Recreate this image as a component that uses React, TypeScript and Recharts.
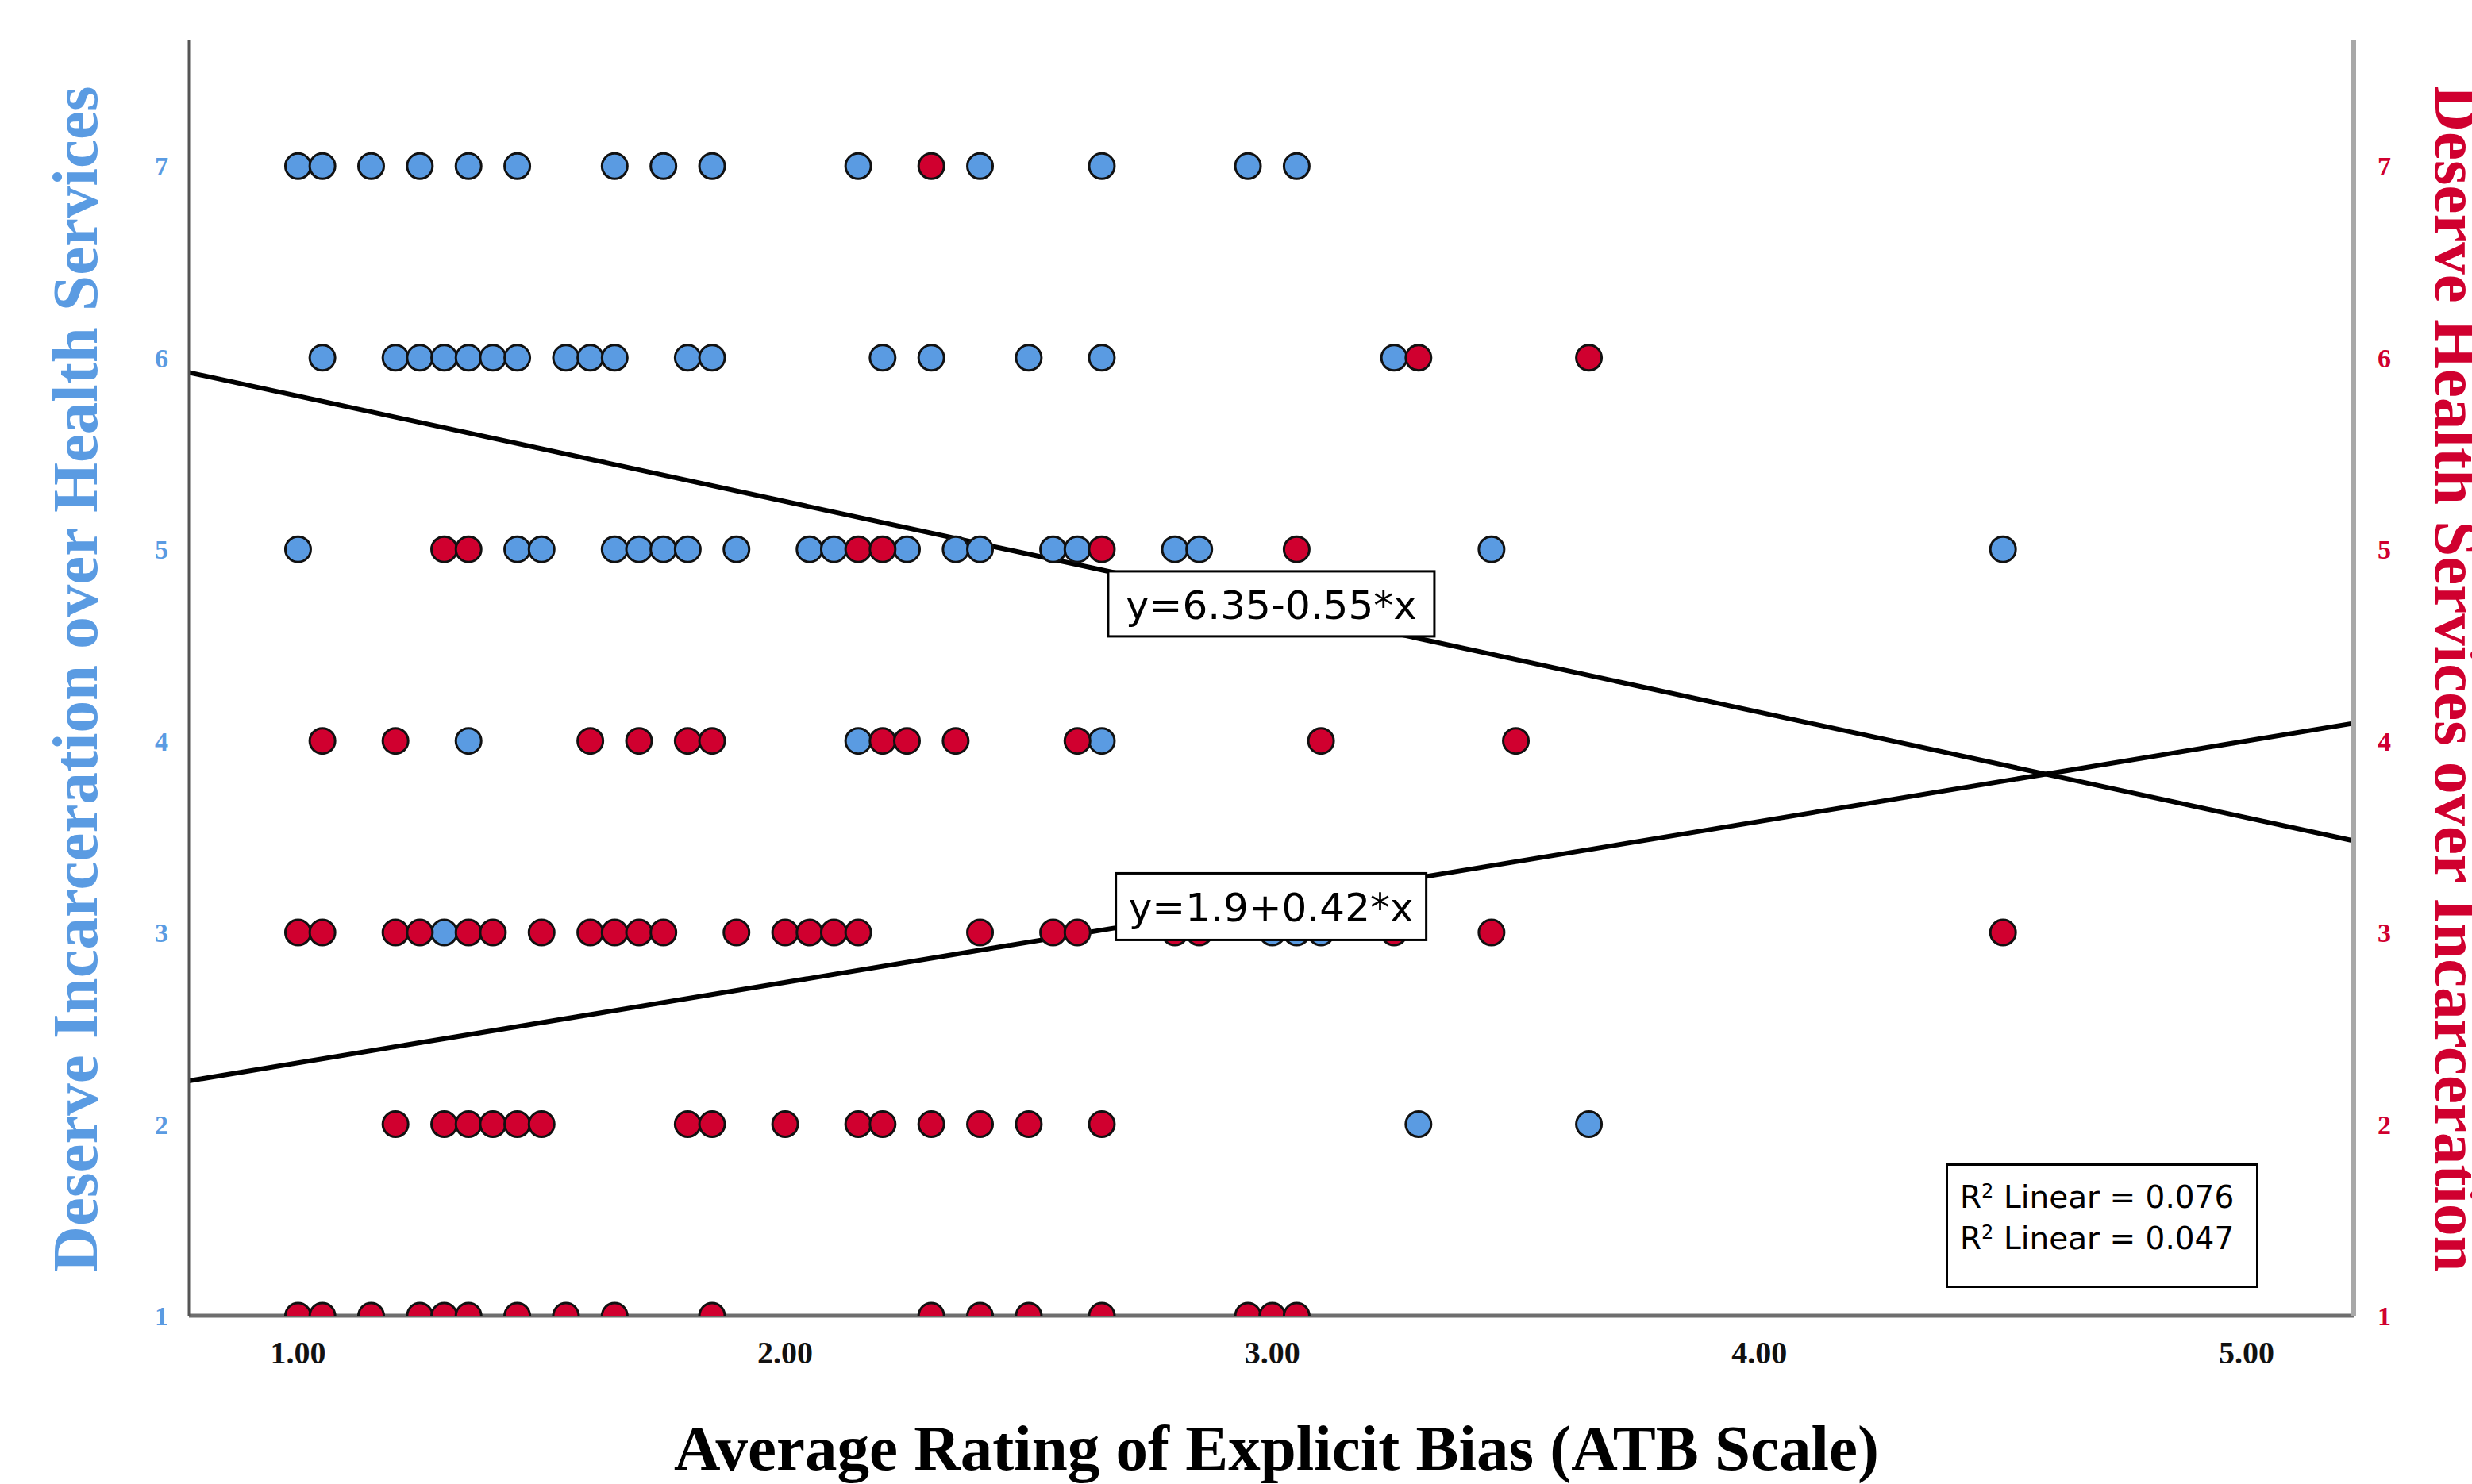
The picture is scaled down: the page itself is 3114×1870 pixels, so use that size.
import React from "react";
import {
  ScatterChart,
  Scatter,
  XAxis,
  YAxis,
  ReferenceLine,
  ReferenceDot,
} from "recharts";

const xTicks = [1, 2, 3, 4, 5];
const yTicks = [1, 2, 3, 4, 5, 6, 7];

// Deserve Incarceration over Health Services (blue, left axis) - x values per rating level
const blue7 = [1.0, 1.05, 1.15, 1.25, 1.35, 1.45, 1.65, 1.75, 1.85, 2.15, 2.4, 2.65, 2.95, 3.05];
const blue6 = [1.05, 1.2, 1.25, 1.3, 1.35, 1.4, 1.45, 1.55, 1.6, 1.65, 1.8, 1.85, 2.2, 2.3, 2.5, 2.65, 3.25];
const blue5 = [1.0, 1.45, 1.5, 1.65, 1.7, 1.75, 1.8, 1.9, 2.05, 2.1, 2.25, 2.35, 2.4, 2.55, 2.6, 2.8, 2.85, 3.45, 4.5];
const blue4 = [1.35, 2.15, 2.65];
const blue3 = [1.3, 3.0, 3.05, 3.1];
const blue2 = [3.3, 3.65];

// Deserve Health Services over Incarceration (red, right axis)
const red7 = [2.3];
const red6 = [3.3, 3.65];
const red5 = [1.3, 1.35, 2.15, 2.2, 2.65, 3.05];
const red4 = [1.05, 1.2, 1.6, 1.7, 1.8, 1.85, 2.2, 2.25, 2.35, 2.6, 3.1, 3.5];
const red3 = [1.0, 1.05, 1.2, 1.25, 1.35, 1.4, 1.5, 1.6, 1.65, 1.7, 1.75, 1.9, 2.0, 2.05, 2.1, 2.15, 2.4, 2.55, 2.6, 2.8, 2.85, 3.25, 3.45, 4.5];
const red2 = [1.2, 1.3, 1.35, 1.4, 1.45, 1.5, 1.8, 1.85, 2.0, 2.15, 2.2, 2.3, 2.4, 2.5, 2.65];
const red1 = [1.0, 1.05, 1.15, 1.25, 1.3, 1.35, 1.45, 1.55, 1.65, 1.85, 2.3, 2.4, 2.5, 2.65, 2.95, 3.0, 3.05];

// fit lines: y = a + b*x
const blueFit = { a: 6.35, b: -0.55, r2: 0.076 };
const redFit = { a: 1.9, b: 0.42, r2: 0.047 };

const X_MIN = 0.776;
const X_MAX = 5.22;
const Y_MIN = 1;
const Y_MAX = 7.66;

const BLUE = "#5a9be2";
const RED = "#d0002f";
const SERIF = "'Liberation Serif', 'Times New Roman', serif";
const SANS = "'DejaVu Sans', sans-serif";

const toPoints = (rows: [number, number[]][]) =>
  rows.flatMap(([y, xs]) => xs.map((x) => ({ x, y })));

const bluePoints = toPoints([[7, blue7], [6, blue6], [5, blue5], [4, blue4], [3, blue3], [2, blue2]]);
const redPoints = toPoints([[7, red7], [6, red6], [5, red5], [4, red4], [3, red3], [2, red2], [1, red1]]);

const fitAt = (f: { a: number; b: number }, x: number) => f.a + f.b * x;
const eqText = (f: { a: number; b: number }) =>
  `y=${f.a}${f.b < 0 ? "-" : "+"}${Math.abs(f.b)}*x`;

const dot = (fill: string) => (p: any) => (
  <circle cx={p.cx} cy={p.cy} r={16} fill={fill} stroke="#111" strokeWidth={3} />
);

const EquationBox = ({ cx, cy, text, w, h, alignRight }: any) => {
  const x = alignRight ? cx - w : cx;
  return (
    <g>
      <rect x={x} y={cy} width={w} height={h} fill="#fff" stroke="#000" strokeWidth={3} />
      <text
        x={x + w / 2}
        y={cy + h / 2 + 2}
        textAnchor="middle"
        dominantBaseline="central"
        fontFamily={SANS}
        fontSize={50}
        fill="#000"
      >
        {text}
      </text>
    </g>
  );
};

export default function App() {
  return (
    <div style={{ position: "absolute", left: 0, top: 0, width: 3114, height: 1870, background: "#fff" }}>
      <ScatterChart
        width={3114}
        height={1870}
        margin={{ top: 50, right: 49, bottom: 112, left: 138 }}
      >
        <XAxis
          type="number"
          dataKey="x"
          domain={[X_MIN, X_MAX]}
          ticks={xTicks}
          allowDataOverflow
          height={100}
          tickLine={false}
          tickMargin={26}
          tickFormatter={(v: number) => v.toFixed(2)}
          axisLine={{ stroke: "#6e6e6e", strokeWidth: 5 }}
          tick={{ fill: "#111", fontFamily: SERIF, fontWeight: 700, fontSize: 40 }}
        />
        <YAxis
          yAxisId="left"
          type="number"
          dataKey="y"
          domain={[Y_MIN, Y_MAX]}
          ticks={yTicks}
          allowDataOverflow
          width={100}
          tickLine={false}
          tickMargin={20}
          axisLine={{ stroke: "#555", strokeWidth: 3 }}
          tick={{ fill: BLUE, fontFamily: SERIF, fontWeight: 700, fontSize: 34 }}
        />
        <YAxis
          yAxisId="right"
          orientation="right"
          type="number"
          dataKey="y"
          domain={[Y_MIN, Y_MAX]}
          ticks={yTicks}
          allowDataOverflow
          width={100}
          tickLine={false}
          tickMargin={24}
          axisLine={{ stroke: "#a8a8a8", strokeWidth: 6 }}
          tick={{ fill: RED, fontFamily: SERIF, fontWeight: 700, fontSize: 34 }}
        />
        <Scatter
          yAxisId="left"
          data={bluePoints}
          shape={dot(BLUE)}
          isAnimationActive={false}
        />
        <Scatter
          yAxisId="right"
          data={redPoints}
          shape={dot(RED)}
          isAnimationActive={false}
        />
        <ReferenceLine
          yAxisId="left"
          ifOverflow="visible"
          segment={[
            { x: X_MIN, y: fitAt(blueFit, X_MIN) },
            { x: X_MAX, y: fitAt(blueFit, X_MAX) },
          ]}
          stroke="#000"
          strokeWidth={6}
        />
        <ReferenceLine
          yAxisId="right"
          ifOverflow="visible"
          segment={[
            { x: X_MIN, y: fitAt(redFit, X_MIN) },
            { x: X_MAX, y: fitAt(redFit, X_MAX) },
          ]}
          stroke="#000"
          strokeWidth={6}
        />
        <ReferenceDot
          yAxisId="left"
          x={2.663}
          y={fitAt(blueFit, 2.663)}
          r={0}
          ifOverflow="visible"
          shape={(p: any) => (
            <EquationBox cx={p.cx} cy={p.cy} text={eqText(blueFit)} w={411} h={82} />
          )}
        />
        <ReferenceDot
          yAxisId="right"
          x={3.316}
          y={fitAt(redFit, 3.316)}
          r={0}
          ifOverflow="visible"
          shape={(p: any) => (
            <EquationBox cx={p.cx} cy={p.cy - 4} text={eqText(redFit)} w={391} h={84} alignRight />
          )}
        />
      </ScatterChart>

      <div
        style={{
          position: "absolute",
          left: 2451,
          top: 1466,
          width: 373,
          height: 137,
          border: "3px solid #000",
          background: "#fff",
          fontFamily: SANS,
          fontSize: 39,
          lineHeight: "52px",
          paddingTop: 14,
          paddingLeft: 15,
          boxSizing: "content-box",
          color: "#000",
          whiteSpace: "nowrap",
        }}
      >
        {[blueFit.r2, redFit.r2].map((r2, i) => (
          <div key={i}>
            R<sup style={{ fontSize: "0.62em", verticalAlign: "0.55em", lineHeight: 0 }}>2</sup> Linear = {r2.toFixed(3)}
          </div>
        ))}
      </div>

      <div
        style={{
          position: "absolute",
          left: 95,
          top: 856,
          transform: "translate(-50%, -50%) rotate(-90deg)",
          fontFamily: SERIF,
          fontWeight: 700,
          fontSize: 81,
          lineHeight: "81px",
          color: BLUE,
          whiteSpace: "nowrap",
        }}
      >
        Deserve Incarceration over Health Services
      </div>
      <div
        style={{
          position: "absolute",
          left: 3094,
          top: 855,
          transform: "translate(-50%, -50%) rotate(90deg)",
          fontFamily: SERIF,
          fontWeight: 700,
          fontSize: 81,
          lineHeight: "81px",
          color: RED,
          whiteSpace: "nowrap",
        }}
      >
        Deserve Health Services over Incarceration
      </div>
      <div
        style={{
          position: "absolute",
          left: 1608,
          top: 1825,
          transform: "translate(-50%, -50%)",
          fontFamily: SERIF,
          fontWeight: 700,
          fontSize: 81,
          lineHeight: "81px",
          color: "#000",
          whiteSpace: "nowrap",
        }}
      >
        Average Rating of Explicit Bias (ATB Scale)
      </div>
    </div>
  );
}
